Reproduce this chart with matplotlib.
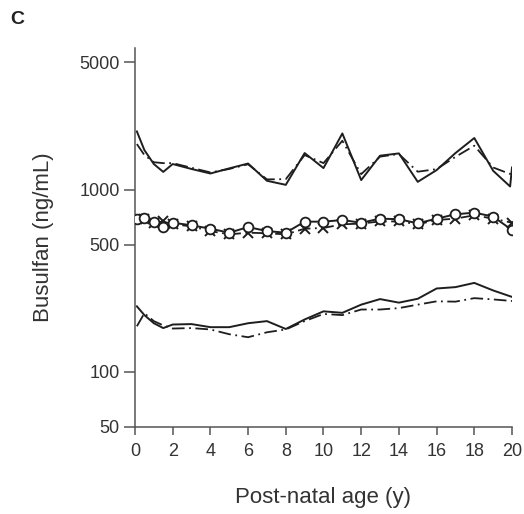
import matplotlib
matplotlib.use("Agg")
import matplotlib.pyplot as plt
import numpy as np

plt.rcParams['font.family'] = ['Liberation Sans', 'DejaVu Sans']

# post-natal age (years)
age = [0.1, 0.5, 1, 1.5, 2] + list(range(3, 21))
age_hi_solid = age[:-1] + [19.9, 20]

# upper pair (ng/mL)
hi_solid = [2090, 1650, 1384, 1253, 1384, 1300, 1228, 1310, 1393, 1120, 1064, 1590,
            1315, 2038, 1130, 1538, 1583, 1105, 1282, 1590, 1923, 1271, 1042, 1325]
hi_dash = [1782, 1550, 1416, 1400, 1400, 1320, 1245, 1300, 1380, 1140, 1143, 1550,
           1400, 1858, 1218, 1520, 1570, 1256, 1298, 1515, 1745, 1325, 1210]

# middle pair
mid_circle = [689, 703, 665, 627, 659, 638, 611, 581, 624, 593, 581, 668,
              668, 682, 659, 694, 689, 654, 694, 733, 749, 712, 601]
mid_cross = [689, 690, 655, 670, 646, 630, 593, 569, 581, 577, 569, 611,
             617, 646, 652, 670, 670, 646, 682, 694, 724, 694, 659]

# lower pair
lo_solid = [229, 205, 185, 174, 182, 183, 176, 176, 185, 190, 172, 194,
            215, 211, 234, 251, 240, 252, 287, 292, 308, 280, 258]
lo_dash = [178, 210, 190, 180, 173, 174, 171, 161, 155, 165, 171, 190,
           208, 205, 220, 220, 224, 234, 244, 243, 254, 250, 245]

yticks = [50, 100, 500, 1000, 5000]
xticks = list(range(0, 21, 2))

ink = '#1e1e1e'
axis_col = '#555555'
dashdot = (0, (7, 2.5, 1, 2.5))

fig = plt.figure(figsize=(5.24, 5.14), dpi=100)
ax = fig.add_axes([0.2576, 0.1698, 0.7195, 0.7368])

# solid / dash-dot pairs
ax.plot(age_hi_solid, hi_solid, color=ink, lw=1.4)
ax.plot(age, hi_dash, color=ink, lw=1.3, linestyle=dashdot)

ax.plot(age, mid_circle, color=ink, lw=1.4, marker='o', ms=7,
        mfc='white', mec=ink, mew=1.3, zorder=4)
ax.plot(age, mid_cross, color=ink, lw=1.3, linestyle=dashdot, marker='x',
        ms=6.5, mec=ink, mew=1.4, zorder=3)

ax.plot(age, lo_solid, color=ink, lw=1.4)
ax.plot(age, lo_dash, color=ink, lw=1.3, linestyle=dashdot)

# axes
ax.set_yscale('log')
ax.set_ylim(50, 6000)
ax.set_xlim(0, 20)
ax.set_yticks(yticks)
ax.set_yticklabels([str(t) for t in yticks])
ax.minorticks_off()
ax.set_xticks(xticks)
ax.set_xticklabels([str(t) for t in xticks])

for side in ['top', 'right']:
    ax.spines[side].set_visible(False)
for side in ['left', 'bottom']:
    ax.spines[side].set_color(axis_col)
    ax.spines[side].set_linewidth(1.1)

ax.tick_params(axis='y', direction='out', length=8, width=1.1,
               color=axis_col, labelsize=13, labelcolor='#333333', pad=3)
ax.tick_params(axis='x', direction='out', length=5.5, width=1.1,
               color=axis_col, labelsize=13, labelcolor='#333333', pad=6)

ax.set_ylabel('Busulfan (ng/mL)', fontsize=16, color='#333333', labelpad=18)
ax.set_xlabel('Post-natal age (y)', fontsize=16, color='#333333', labelpad=20)

fig.text(0.02, 0.962, 'C', fontsize=14, fontweight='bold', color='#222222',
         va='center', ha='left')

fig.savefig('out.png', dpi=100)
